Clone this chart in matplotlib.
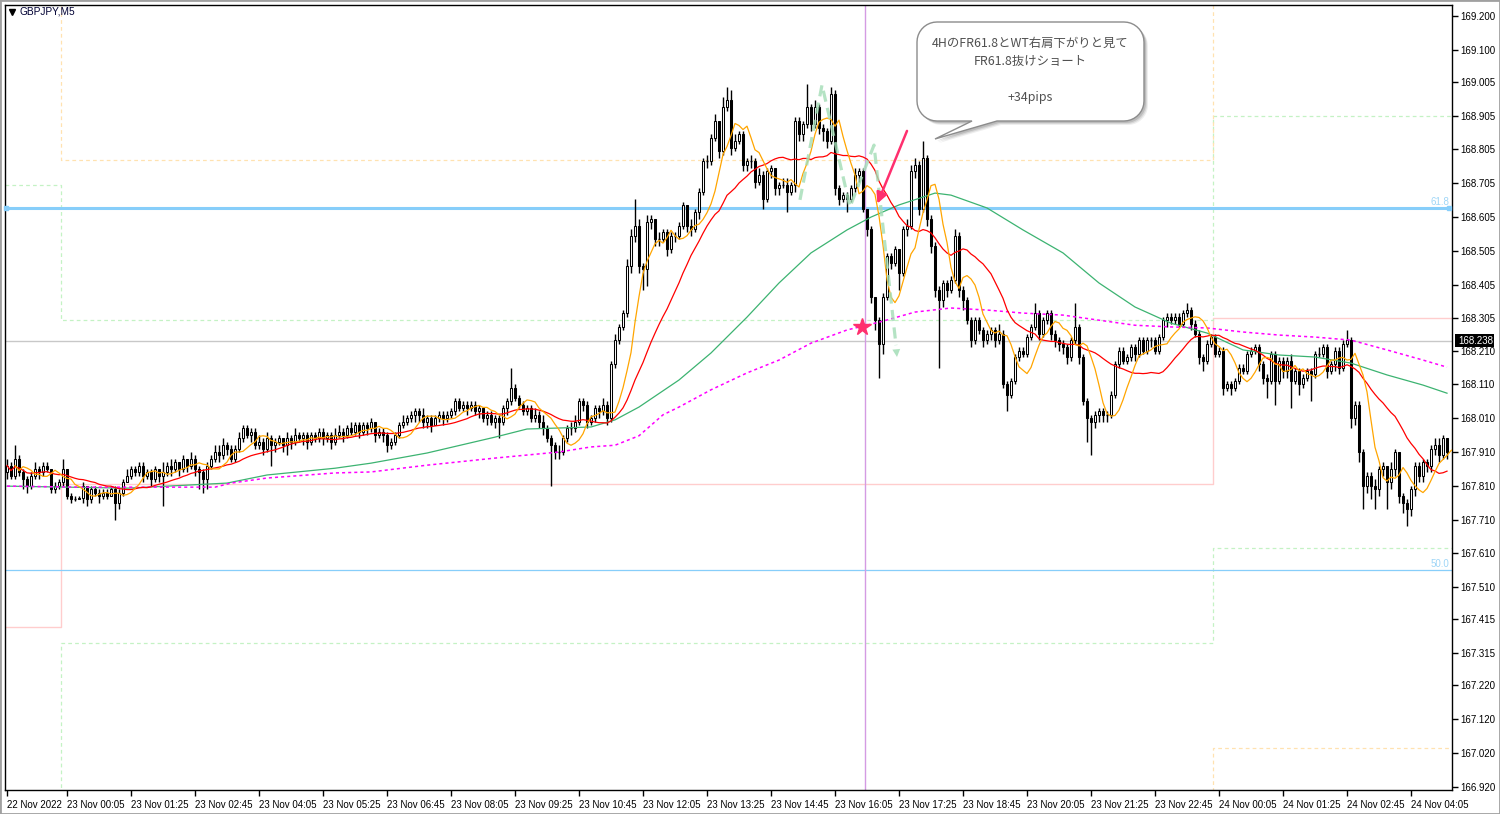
import numpy as np
import pandas as pd
import matplotlib
matplotlib.use("Agg")
import matplotlib.pyplot as plt
from matplotlib.patches import Polygon, Rectangle, FancyArrowPatch
from matplotlib.lines import Line2D

plt.rcParams['font.family'] = ['Liberation Sans', 'DejaVu Sans']

W, H = 1500, 814

# ---------------- data ----------------
SYMBOL = "GBPJPY,M5"
FIRST_OPEN = 167.85
close = [
 167.87,167.84,167.89,167.85,167.83,167.81,167.84,167.86,167.85,167.87,
 167.86,167.80,167.81,167.82,167.86,167.78,167.77,167.77,167.775,167.81,
 167.77,167.80,167.79,167.78,167.79,167.78,167.80,167.76,167.79,167.82,
 167.84,167.86,167.85,167.87,167.84,167.85,167.83,167.86,167.84,167.85,
 167.87,167.86,167.88,167.86,167.89,167.87,167.89,167.86,167.85,167.83,
 167.87,167.89,167.91,167.90,167.93,167.92,167.89,167.92,167.95,167.98,
 167.96,167.97,167.93,167.94,167.92,167.95,167.93,167.94,167.95,167.93,
 167.95,167.94,167.96,167.95,167.96,167.94,167.96,167.95,167.97,167.95,
 167.96,167.94,167.96,167.97,167.96,167.98,167.97,167.99,167.97,167.99,
 167.98,168.00,167.96,167.97,167.96,167.93,167.94,167.96,167.99,168.00,
 168.01,168.02,168.03,168.02,168.00,168.01,167.99,168.01,168.02,168.01,
 168.02,168.03,168.06,168.04,168.05,168.04,168.05,168.03,168.04,168.01,
 168.02,168.00,168.01,168.00,168.04,168.06,168.10,168.07,168.05,168.03,
 168.04,168.01,168.02,168.00,167.98,167.95,167.93,167.91,167.91,167.95,
 167.98,167.98,168.00,168.06,168.05,168.00,168.01,168.04,168.03,168.05,
 168.01,168.17,
 168.24,168.28,168.32,168.46,168.55,168.58,168.46,168.45,
 168.59,168.60,168.54,168.54,168.56,168.51,168.55,168.55,168.58,168.64,
 168.58,168.57,168.62,168.68,168.77,168.77,168.84,168.89,168.80,168.93,
 168.95,168.81,168.83,168.85,168.76,168.77,168.77,168.71,168.73,168.66,
 168.74,168.75,168.69,168.70,168.70,168.68,168.70,168.89,168.85,168.88,
 168.93,168.88,168.93,168.87,168.86,168.83,168.97,168.69,168.66,168.67,
 168.66,168.69,168.73,168.74,168.63,168.57,168.37,168.30,168.23,168.37,
 168.49,168.47,168.51,168.44,168.57,168.58,168.74,168.76,168.63,168.78,
 168.60,168.52,168.39,168.36,168.41,168.39,168.42,168.55,168.39,168.36,
 168.30,168.24,168.30,168.27,168.24,168.26,168.27,168.24,168.26,168.11,
 168.08,168.12,168.19,168.21,168.20,168.25,168.28,168.32,168.26,168.30,
 168.32,168.26,168.24,168.23,168.22,168.19,168.24,168.28,168.19,168.06,
 168.01,168.00,168.02,168.03,168.02,168.02,168.08,168.17,168.21,168.18,
 168.19,168.22,168.20,168.24,168.21,168.24,168.24,168.21,168.25,168.30,
 168.31,168.30,168.31,168.29,168.32,168.33,168.29,168.26,168.19,168.18,
 168.23,168.25,168.20,168.21,168.10,168.11,168.10,168.12,168.16,168.15,
 168.20,168.21,168.22,168.17,168.13,168.12,168.20,168.12,168.18,168.15,
 168.18,168.12,168.15,168.11,168.13,168.15,168.14,168.20,168.20,168.22,
 168.15,168.17,168.21,168.16,168.23,168.24,168.01,168.05,167.91,167.81,
 167.84,167.81,167.80,167.86,167.87,167.82,167.86,167.91,167.78,167.76,
 167.74,167.80,167.87,167.84,167.88,167.87,167.92,167.93,167.90,167.95,167.91]
high = [
 167.89,167.88,167.93,167.90,167.86,167.84,167.85,167.88,167.87,167.88,
 167.88,167.86,167.82,167.83,167.89,167.86,167.79,167.78,167.78,167.82,
 167.81,167.81,167.81,167.80,167.80,167.80,167.81,167.81,167.80,167.83,
 167.86,167.87,167.87,167.88,167.88,167.86,167.86,167.87,167.86,167.88,
 167.88,167.89,167.89,167.88,167.90,167.89,167.91,167.90,167.87,167.86,
 167.88,167.90,167.93,167.93,167.95,167.94,167.93,167.93,167.97,167.99,
 167.99,167.98,167.98,167.96,167.95,167.97,167.96,167.95,167.96,167.95,
 167.97,167.96,167.98,167.97,167.97,167.97,167.97,167.97,167.98,167.98,
 167.97,167.97,167.98,167.99,167.98,167.99,168.00,168.00,168.00,168.00,
 168.00,168.01,168.00,167.98,167.98,167.97,167.95,167.97,168.00,168.02,
 168.02,168.03,168.04,168.04,168.04,168.02,168.02,168.02,168.03,168.03,
 168.03,168.04,168.07,168.07,168.06,168.06,168.06,168.06,168.05,168.04,
 168.03,168.03,168.02,168.02,168.05,168.07,168.16,168.11,168.08,168.06,
 168.05,168.05,168.04,168.03,168.02,167.99,167.96,167.94,167.93,167.96,
 167.99,168.00,168.02,168.07,168.07,168.06,168.02,168.05,168.05,168.07,
 168.06,168.18,
 168.26,168.29,168.33,168.48,168.57,168.66,168.60,168.47,
 168.61,168.61,168.60,168.56,168.57,168.57,168.56,168.56,168.59,168.65,
 168.64,168.60,168.63,168.69,168.78,168.79,168.85,168.91,168.89,168.96,
 168.99,168.98,168.85,168.86,168.86,168.78,168.79,168.78,168.75,168.74,
 168.75,168.76,168.75,168.71,168.72,168.72,168.71,168.90,168.90,168.89,
 169.00,168.94,168.95,168.94,168.88,168.87,168.99,168.98,168.70,168.68,
 168.68,168.70,168.75,168.75,168.75,168.63,168.58,168.37,168.31,168.38,
 168.50,168.50,168.52,168.51,168.58,168.60,168.76,168.78,168.77,168.83,
 168.79,168.61,168.53,168.40,168.42,168.42,168.43,168.57,168.56,168.40,
 168.37,168.31,168.31,168.31,168.28,168.27,168.28,168.28,168.29,168.27,
 168.12,168.13,168.20,168.22,168.22,168.26,168.29,168.35,168.33,168.31,
 168.33,168.33,168.27,168.25,168.24,168.23,168.25,168.35,168.29,168.20,
 168.07,168.02,168.03,168.04,168.04,168.03,168.09,168.18,168.22,168.22,
 168.20,168.23,168.23,168.25,168.25,168.25,168.25,168.25,168.26,168.31,
 168.32,168.32,168.32,168.32,168.33,168.35,168.34,168.30,168.27,168.20,
 168.24,168.26,168.26,168.22,168.22,168.12,168.12,168.13,168.17,168.17,
 168.21,168.22,168.23,168.23,168.18,168.14,168.21,168.21,168.19,168.19,
 168.19,168.20,168.16,168.16,168.14,168.16,168.16,168.21,168.22,168.23,
 168.23,168.18,168.22,168.22,168.24,168.27,168.25,168.06,168.06,167.92,
 167.85,167.85,167.83,167.87,167.88,167.87,167.88,167.92,167.91,167.79,
 167.77,167.81,167.88,167.88,167.89,167.89,167.93,167.95,167.95,167.96,167.95]
low = [
 167.83,167.83,167.83,167.84,167.80,167.79,167.80,167.83,167.83,167.84,
 167.85,167.79,167.79,167.80,167.81,167.77,167.76,167.765,167.77,167.76,
 167.75,167.76,167.78,167.76,167.77,167.77,167.78,167.71,167.74,167.78,
 167.82,167.83,167.84,167.84,167.82,167.83,167.81,167.82,167.82,167.75,
 167.84,167.84,167.85,167.84,167.85,167.85,167.86,167.84,167.80,167.79,
 167.80,167.86,167.88,167.88,167.89,167.90,167.88,167.88,167.91,167.94,
 167.95,167.94,167.92,167.92,167.90,167.91,167.87,167.91,167.93,167.91,
 167.90,167.92,167.93,167.94,167.93,167.92,167.93,167.94,167.94,167.93,
 167.94,167.92,167.93,167.95,167.94,167.95,167.96,167.96,167.95,167.96,
 167.96,167.97,167.94,167.95,167.94,167.91,167.92,167.93,167.95,167.98,
 167.99,168.00,168.00,168.00,167.98,167.98,167.97,167.99,168.00,167.99,
 168.00,168.01,168.02,168.03,168.03,168.02,168.03,168.02,168.01,168.00,
 167.99,167.99,167.98,167.95,167.99,168.02,168.05,168.06,168.04,168.02,
 168.02,168.00,168.00,167.98,167.96,167.94,167.81,167.89,167.89,167.90,
 167.94,167.96,167.97,167.99,168.03,167.98,167.99,168.00,168.01,168.02,
 167.99,168.00,
 168.16,168.23,168.27,168.31,168.44,168.53,168.44,168.39,
 168.40,168.57,168.52,168.52,168.53,168.49,168.50,168.53,168.54,168.57,
 168.56,168.55,168.56,168.60,168.67,168.75,168.76,168.83,168.78,168.79,
 168.92,168.79,168.80,168.82,168.74,168.74,168.75,168.69,168.70,168.63,
 168.65,168.72,168.67,168.67,168.69,168.62,168.67,168.68,168.83,168.83,
 168.87,168.86,168.87,168.85,168.83,168.81,168.82,168.67,168.64,168.65,
 168.62,168.65,168.68,168.71,168.62,168.55,168.35,168.27,168.13,168.20,
 168.36,168.45,168.46,168.39,168.43,168.55,168.57,168.72,168.61,168.62,
 168.58,168.50,168.37,168.16,168.34,168.37,168.38,168.41,168.37,168.33,
 168.29,168.22,168.23,168.26,168.22,168.23,168.24,168.22,168.23,168.10,
 168.03,168.07,168.11,168.18,168.19,168.19,168.24,168.27,168.24,168.25,
 168.29,168.24,168.22,168.21,168.20,168.17,168.18,168.23,168.17,168.05,
 167.94,167.90,167.98,168.00,168.00,168.00,168.01,168.07,168.16,168.17,
 168.17,168.18,168.18,168.19,168.20,168.20,168.22,168.20,168.20,168.24,
 168.28,168.29,168.29,168.28,168.28,168.31,168.27,168.25,168.17,168.15,
 168.17,168.22,168.19,168.19,168.08,168.09,168.08,168.09,168.11,168.14,
 168.14,168.19,168.20,168.15,168.11,168.07,168.11,168.05,168.11,168.13,
 168.13,168.04,168.11,168.08,168.10,168.12,168.06,168.13,168.19,168.19,
 168.13,168.14,168.15,168.14,168.15,168.22,167.98,167.99,167.88,167.74,
 167.79,167.77,167.74,167.78,167.84,167.74,167.80,167.84,167.76,167.73,
 167.69,167.72,167.78,167.82,167.82,167.85,167.85,167.90,167.88,167.89,167.89]

# moving averages (slow ones)
GREEN_BARS = [0, 30, 55, 65, 82, 91, 105, 122, 130, 138, 146, 152, 158, 168, 176, 185, 193, 201, 210, 216,
              223, 232, 236, 245, 254, 264, 273, 282, 291, 300, 309, 318, 327, 336, 345, 354, 360]
GREEN_VALS = [167.809, 167.803, 167.818, 167.842, 167.862, 167.877, 167.907, 167.954, 167.978, 167.981,
              167.984, 168.005, 168.043, 168.123, 168.203, 168.309, 168.410, 168.499, 168.567, 168.605,
              168.641, 168.676, 168.670, 168.632, 168.567, 168.499, 168.410, 168.339, 168.291, 168.262,
              168.212, 168.197, 168.191, 168.173, 168.138, 168.108, 168.084]
MAGENTA_BARS = [0, 19, 52, 56, 65, 82, 91, 105, 122, 138, 146, 152, 158, 164, 168, 176, 185, 193, 201, 210,
                218, 227, 236, 245, 254, 264, 273, 282, 291, 300, 309, 318, 327, 336, 345, 354, 360]
MAGENTA_VALS = [167.809, 167.806, 167.806, 167.818, 167.833, 167.848, 167.851, 167.871, 167.892, 167.910,
                167.925, 167.930, 167.958, 168.020, 168.043, 168.094, 168.144, 168.182, 168.232, 168.271,
                168.294, 168.324, 168.336, 168.330, 168.321, 168.315, 168.300, 168.285, 168.280, 168.277,
                168.265, 168.256, 168.250, 168.241, 168.212, 168.182, 168.161]

# daily pivot levels (day boundaries at bar edges)
DAY_EDGES = [-0.5, 13.5, 301.5, 361.5]
PIVOT_P  = [167.392, 167.815, 168.306]
PIVOT_R1 = [168.700, 168.300, 168.904]
PIVOT_S1 = [166.600, 167.345, 167.626]
PIVOT_R2 = [169.600, 168.774, 169.584]
PIVOT_S2 = [165.900, 166.860, 167.034]

FIB_618 = 168.632
FIB_500 = 167.561
BID = 168.238
VLINE_BAR = 214.5

YTICKS = [169.200, 169.100, 169.005, 168.905, 168.805, 168.705, 168.605, 168.505, 168.405, 168.305,
          168.210, 168.110, 168.010, 167.910, 167.810, 167.710, 167.610, 167.510, 167.415, 167.315,
          167.220, 167.120, 167.020, 166.920]
XTICK_BARS = [0, 15, 31, 47, 63, 79, 95, 111, 127, 143, 159, 175, 191, 207, 223, 239, 255, 271, 287,
              303, 319, 335, 351]
XTICK_LABELS = ["22 Nov 2022", "23 Nov 00:05", "23 Nov 01:25", "23 Nov 02:45", "23 Nov 04:05",
                "23 Nov 05:25", "23 Nov 06:45", "23 Nov 08:05", "23 Nov 09:25", "23 Nov 10:45",
                "23 Nov 12:05", "23 Nov 13:25", "23 Nov 14:45", "23 Nov 16:05", "23 Nov 17:25",
                "23 Nov 18:45", "23 Nov 20:05", "23 Nov 21:25", "23 Nov 22:45", "24 Nov 00:05",
                "24 Nov 01:25", "24 Nov 02:45", "24 Nov 04:05"]

NOTE_LINES = ["4HのFR61.8とWT右肩下がりと見て", "FR61.8抜けショート", "+34pips"]
STAR_BAR, STAR_PRICE = 213.75, 168.279
PINK_ARROW = [(225.0, 168.860), (217.6, 168.645)]
GREEN_PATH_BARS = [198.25, 203.75, 210.75, 216.75, 222.5]
GREEN_PATH_VALS = [168.656, 168.996, 168.635, 168.818, 168.191]

# ---------------- figure ----------------
fig = plt.figure(figsize=(15, 8.14), dpi=100)
fig.patch.set_facecolor('white')
ax = fig.add_axes([5 / W, 1 - 790 / H, 1447 / W, 785 / H])
ax.set_xlim(-0.5, 361.25)
ax.set_ylim(166.910, 169.2325)

c = np.array(close)
hi = np.array(high)
lo = np.array(low)
assert len(c) == len(hi) == len(lo)
o = np.r_[FIRST_OPEN, c[:-1]]
n = len(c)
x = np.arange(n)
hi = np.maximum(hi, np.maximum(o, c))
lo = np.minimum(lo, np.minimum(o, c))

# pivot step lines
def step(vals, color, ls, lw):
    ax.step(DAY_EDGES, vals + [vals[-1]], where='post', color=color, ls=ls, lw=lw, zorder=1)

step(PIVOT_P, '#ffcdcd', '-', 1.0)
step(PIVOT_R1, '#c4f2c4', (0, (3, 2.5)), 0.9)
step(PIVOT_S1, '#c4f2c4', (0, (3, 2.5)), 0.9)
step(PIVOT_R2, '#ffe2b0', (0, (3, 2.5)), 0.9)
step(PIVOT_S2, '#ffe2b0', (0, (3, 2.5)), 0.9)

# horizontal / vertical objects
ax.axhline(BID, color='#c8c8c8', lw=1.0, zorder=1)
ax.axhline(FIB_618, color='#87cefa', lw=2.2, zorder=2)
ax.axhline(FIB_500, color='#87cefa', lw=0.9, zorder=2)
ax.axvline(VLINE_BAR, color='#d49be3', lw=1.0, zorder=2)
ax.annotate("61.8", xy=(1, FIB_618), xycoords=('axes fraction', 'data'), xytext=(-2, 1),
            textcoords='offset points', ha='right', va='bottom', fontsize=7, color='#9fd6f7')
ax.annotate("50.0", xy=(1, FIB_500), xycoords=('axes fraction', 'data'), xytext=(-2, 1),
            textcoords='offset points', ha='right', va='bottom', fontsize=7, color='#9fd6f7')
ax.plot([-0.3, 360.6], [FIB_618, FIB_618], ls='none', marker='s', ms=3.5,
        color='#87cefa', clip_on=False, zorder=3)

# candles
ax.vlines(x, lo, hi, color='black', lw=1.0, zorder=4)
up = c > o
dn = c < o
eq = c == o
ax.bar(x[up], (c - o)[up], bottom=o[up], width=0.52, facecolor='white', edgecolor='black',
       lw=0.75, zorder=5)
ax.bar(x[dn], (o - c)[dn], bottom=c[dn], width=0.52, facecolor='black', edgecolor='black',
       lw=0.75, zorder=5)
ax.hlines(c[eq], x[eq] - 0.35, x[eq] + 0.35, color='black', lw=1.0, zorder=5)

# moving averages
s = pd.Series(c)
ma_fast = s.rolling(5, min_periods=1).mean().values
ma_mid = s.rolling(21, min_periods=1).mean().values
ax.plot(GREEN_BARS, GREEN_VALS, color='#3cb371', lw=0.9, zorder=6)
ax.plot(MAGENTA_BARS, MAGENTA_VALS, color='#ff00ff', lw=1.1, ls=(0, (2, 2)), zorder=6)
ax.plot(x, ma_mid, color='#ff0000', lw=0.9, zorder=7)
ax.plot(x + 2, ma_fast, color='#ffa500', lw=0.9, zorder=7)

# annotations on chart
ax.plot(GREEN_PATH_BARS[:-1] + [GREEN_PATH_BARS[-1] - 0.25],
        GREEN_PATH_VALS[:-1] + [GREEN_PATH_VALS[-1] + 0.035],
        color='#a3ddb6', lw=2.3, ls=(0, (3.5, 2)), alpha=0.8, zorder=8, solid_capstyle='butt')
ax.add_patch(FancyArrowPatch((GREEN_PATH_BARS[-1] - 0.4, GREEN_PATH_VALS[-1] + 0.05),
                             (GREEN_PATH_BARS[-1], GREEN_PATH_VALS[-1]),
                             arrowstyle='-|>', mutation_scale=14, color='#a3ddb6', alpha=0.85,
                             lw=0, shrinkA=0, shrinkB=0, zorder=8))
ax.add_patch(FancyArrowPatch(PINK_ARROW[0], PINK_ARROW[1], arrowstyle='-|>', mutation_scale=16,
                             color='#ff2f6e', lw=1.8, shrinkA=0, shrinkB=0, zorder=9))
ax.plot([STAR_BAR], [STAR_PRICE], marker='*', ms=13, color='#ff2f6e', mec='#ff2f6e', zorder=9)

# axes style
for sp in ax.spines.values():
    sp.set_color('black')
    sp.set_linewidth(1.0)
ax.yaxis.tick_right()
ax.set_yticks(YTICKS)
ax.set_yticklabels([f"{v:.3f}" for v in YTICKS])
ax.tick_params(axis='y', direction='out', length=4, width=1, pad=2, labelsize=7, colors='black')
ax.set_xticks(XTICK_BARS)
ax.set_xticklabels(XTICK_LABELS, ha='left')
ax.tick_params(axis='x', direction='out', length=4, width=1, pad=3, labelsize=7, colors='black')

# ---------------- figure-level layout pieces ----------------
def fx(px):
    return px / W

def fy(py):
    return 1 - py / H

# bid price box
fig.patches.append(Rectangle((fx(1455), fy(347)), 39 / W, 13 / H, transform=fig.transFigure,
                             facecolor='black', edgecolor='none', zorder=10))
fig.text(fx(1458), fy(341), f"{BID:.3f}", color='white', fontsize=7, va='center', ha='left', zorder=11)

# symbol title
fig.add_artist(Line2D([fx(12)], [fy(12)], marker='v', ms=4, color='black', transform=fig.transFigure))
fig.text(fx(20), fy(12), SYMBOL, fontsize=7.3, color='#000033', va='center', ha='left')

# callout
def callout(x0, y0, x1, y1, r, tail):
    pts = []
    def arc(cx, cy, a0, a1):
        for a in np.linspace(a0, a1, 10):
            pts.append((cx + r * np.cos(a), cy + r * np.sin(a)))
    arc(x0 + r, y0 + r, np.pi, 1.5 * np.pi)
    arc(x1 - r, y0 + r, 1.5 * np.pi, 2 * np.pi)
    arc(x1 - r, y1 - r, 0.0, 0.5 * np.pi)
    pts += [(tail[0], y1), (tail[1], tail[2]), (tail[3], y1)]
    arc(x0 + r, y1 - r, 0.5 * np.pi, np.pi)
    return pts

box = callout(917, 22, 1144, 121, 20, (997, 935, 139, 972))
for off, al in [(4, 0.10), (3, 0.16), (2, 0.22)]:
    fig.patches.append(Polygon([(fx(px + off), fy(py + off)) for px, py in box], closed=True,
                               transform=fig.transFigure, facecolor='#606060', edgecolor='none',
                               alpha=al, zorder=12))
fig.patches.append(Polygon([(fx(px), fy(py)) for px, py in box], closed=True,
                           transform=fig.transFigure, facecolor='white', edgecolor='#8c8c8c',
                           lw=1.0, zorder=13))
cjk = ['Noto Sans CJK JP', 'DejaVu Sans']
fig.text(fx(1030), fy(43), NOTE_LINES[0], family=cjk, fontsize=8.9, color='#505050',
         ha='center', va='center', zorder=14)
fig.text(fx(1030), fy(61), NOTE_LINES[1], family=cjk, fontsize=8.9, color='#505050',
         ha='center', va='center', zorder=14)
fig.text(fx(1030), fy(97), NOTE_LINES[2], family=cjk, fontsize=8.9, color='#505050',
         ha='center', va='center', zorder=14)

# outer window frame
fig.patches.append(Rectangle((0, 0), 1, 1, transform=fig.transFigure, fill=False,
                             edgecolor='#a0a0a0', lw=2.0, zorder=20))

fig.savefig("out.png", dpi=100, facecolor='white')
